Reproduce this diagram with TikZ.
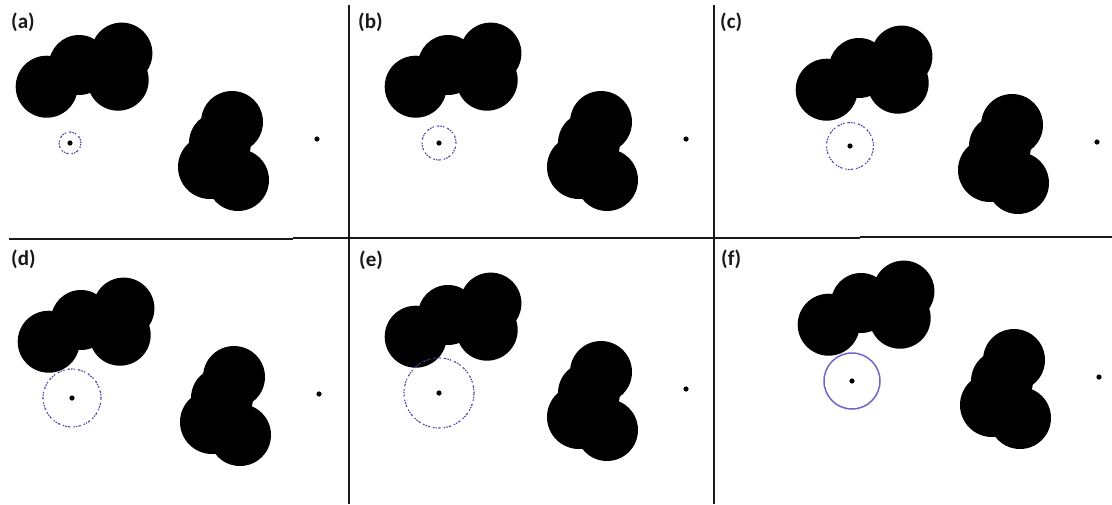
\documentclass[tikz,border=0pt]{standalone}
\usepackage{fontspec}
\setmainfont{Carlito}
\definecolor{probedark}{RGB}{72,62,178}
\definecolor{probelight}{RGB}{112,102,200}
\definecolor{ink}{RGB}{25,25,25}
\tikzset{
  blob/.style={fill=black},
  probedash/.style={draw=probedark, line width=1.1pt,
    dash pattern=on 1.5pt off 1.1pt on 1.5pt off 1.1pt on 2.4pt off 3pt},
  probesolid/.style={draw=probelight, line width=1.5pt},
  dot/.style={fill=black},
  divider/.style={draw=ink, line width=2pt},
  panellabel/.style={anchor=west, inner sep=0pt, text=ink,
    font=\bfseries\fontsize{21}{23}\selectfont}
}
\begin{document}
\begin{tikzpicture}[x=1pt,y=-1pt]
\useasboundingbox (0,0) rectangle (1112,504);
\fill[white] (0,0) rectangle (1112,504);

\foreach \dx/\dy/\r/\sty in {0/0/11/probedash, 369/0/17/probedash, 780/3/23.5/probedash,
                             2/255/29/probedash, 369/250/35/probedash, 782/238/28/probesolid} {
  \begin{scope}[shift={(\dx,\dy)}]
    % upper-left cluster
    \fill[blob] (46.7,86.7) circle[radius=31pt];
    \fill[blob] (79,65) circle[radius=30pt];
    \fill[blob] (121.7,53.3) circle[radius=30.7pt];
    \fill[blob] (118,80) circle[radius=30.7pt];
    % lower-right cluster
    \fill[blob] (232,122) circle[radius=31pt];
    \fill[blob] (220,143) circle[radius=31pt];
    \fill[blob] (210,167) circle[radius=32pt];
    \fill[blob] (238,180) circle[radius=31pt];
    % probe and its search radius
    \draw[\sty] (70,143) circle[radius=\r pt];
    \fill[dot] (70,143) circle[radius=2.6pt];
    % target point
    \fill[dot] (317,139) circle[radius=2.6pt];
  \end{scope}
}

% labels
\node[panellabel] (la) at (11,22) {(a)};
\node[panellabel] (lb) at (358,22) {(b)};
\node[panellabel] (lc) at (720,22) {(c)};
\node[panellabel] (ld) at (11,259) {(d)};
\node[panellabel] (le) at (359,260) {(e)};
\node[panellabel] (lf) at (721,259) {(f)};

% dividers
\draw[divider] (349,5) -- (349,504);
\draw[divider] (714,5) -- (714,504);
\draw[divider, line width=2.2pt] (9,239) -- (293,239);
\draw[divider, line width=1.6pt] (293,238) -- (860,238);
\draw[divider, line width=2pt] (860,237) -- (1112,237);
\end{tikzpicture}
\end{document}
